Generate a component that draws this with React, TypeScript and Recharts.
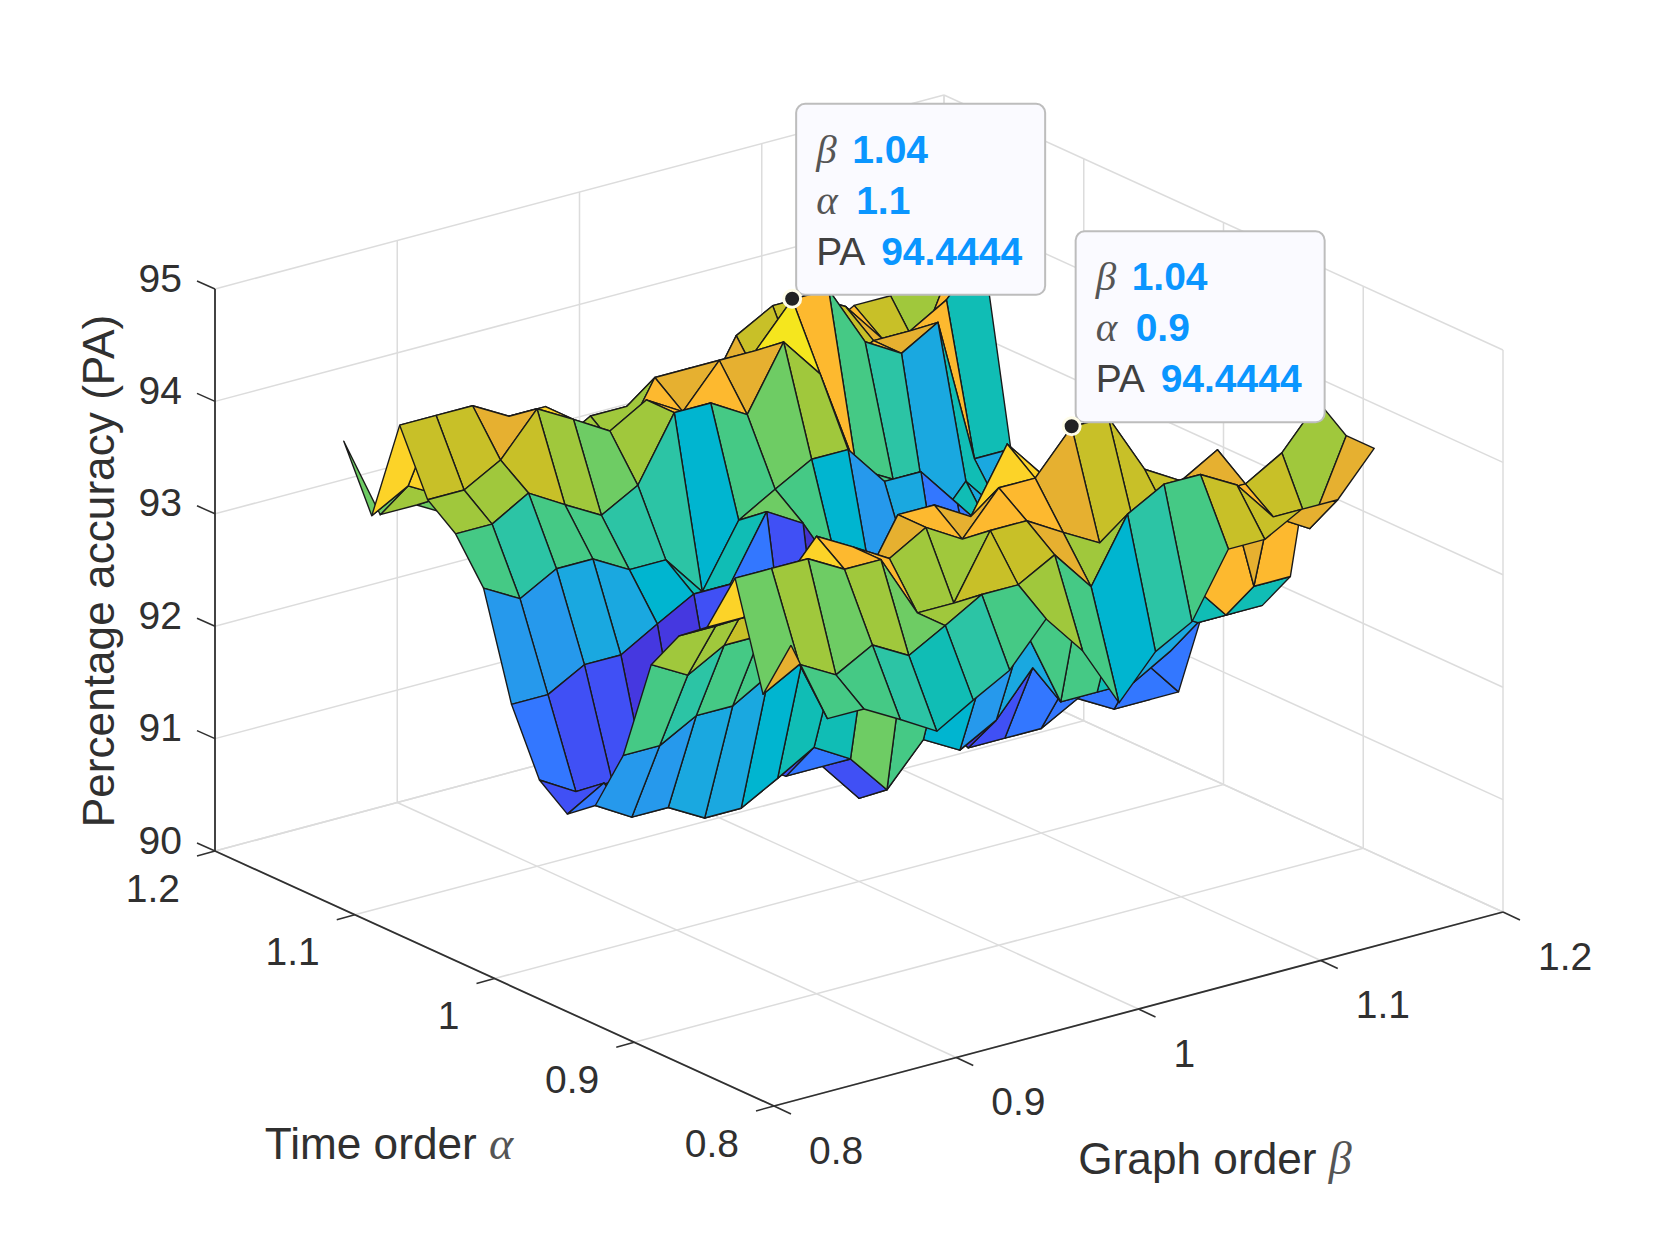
import { ScatterChart, Scatter, XAxis, YAxis } from 'recharts';

const W = 1661;
const H = 1246;

const betaTicks = [0.8, 0.9, 1, 1.1, 1.2];
const alphaTicks = [0.8, 0.9, 1, 1.1, 1.2];
const paTicks = [90, 91, 92, 93, 94, 95];

// grid of the surface: beta and alpha both run 0.84 .. 1.16
const betas = [0.84, 0.86, 0.88, 0.9, 0.92, 0.94, 0.96, 0.98, 1, 1.02, 1.04, 1.06, 1.08, 1.1, 1.12, 1.14, 1.16];
const alphas = [0.84, 0.86, 0.88, 0.9, 0.92, 0.94, 0.96, 0.98, 1, 1.02, 1.04, 1.06, 1.08, 1.1, 1.12, 1.14, 1.16];

// PA, one row per alpha, one value per beta
const pa084 = [93.7, 92.96, 92.96, 92.78, 92.59, 92.78, 92.96, 93.33, 92.96, 92.41, 92.78, 92.96, 93.52, 93.52, 93.7, 93.7, 94.07];
const pa086 = [93.15, 93.33, 93.15, 93.33, 93.15, 93.33, 93.52, 93.52, 93.7, 93.33, 93.89, 94.07, 94.07, 93.89, 93.52, 93.33, 94.07];
const pa088 = [94.07, 94.07, 94.07, 93.89, 93.89, 93.33, 93.33, 93.89, 93.89, 93.7, 93.52, 93.52, 93.52, 93.7, 93.7, 93.89, 94.26];
const pa090 = [93.52, 93.52, 93.7, 94.07, 93.89, 93.7, 93.89, 93.7, 94.07, 94.07, 94.44, 94.44, 93.89, 93.7, 93.89, 92.59, 92.59];
const pa092 = [93.33, 93.33, 93.52, 93.33, 93.15, 93.33, 93.89, 93.89, 93.7, 94.26, 93.89, 92.96, 92.78, 92.22, 92.59, 92.22, 92.22];
const pa094 = [92.96, 92.78, 92.96, 92.96, 92.78, 92.78, 92.41, 92.96, 93.15, 93.33, 93.33, 92.96, 92.96, 92.59, 92.22, 92.04, 92.04];
const pa096 = [92.04, 92.04, 92.22, 92.22, 92.41, 92.59, 92.59, 93.15, 92.96, 92.41, 92.04, 92.22, 91.48, 91.48, 91.48, 91.67, 92.04];
const pa098 = [91.48, 91.29, 91.29, 91.11, 91.11, 91.29, 91.48, 91.29, 90.93, 91.29, 91.11, 91.29, 91.67, 91.48, 91.48, 91.48, 91.11];
const pa100 = [91.29, 91.48, 91.29, 91.29, 91.29, 91.29, 91.11, 91.11, 90.74, 91.29, 91.29, 90.93, 90.93, 90.93, 91.11, 90.93, 90.93];
const pa102 = [91.48, 91.29, 91.29, 91.11, 91.11, 91.29, 91.48, 91.29, 90.93, 91.29, 91.11, 91.29, 91.67, 91.48, 91.48, 91.48, 91.11];
const pa104 = [92.04, 92.04, 92.22, 92.22, 92.41, 92.59, 92.59, 93.15, 92.96, 92.41, 92.04, 92.22, 91.48, 91.48, 91.48, 91.67, 92.04];
const pa106 = [92.96, 92.78, 92.96, 92.96, 92.78, 92.78, 92.41, 92.96, 93.15, 93.33, 93.33, 92.96, 92.96, 92.59, 92.22, 92.04, 92.04];
const pa108 = [93.33, 93.33, 93.52, 93.33, 93.15, 93.33, 93.89, 93.89, 93.7, 94.26, 93.89, 92.96, 92.78, 92.22, 92.59, 92.22, 92.22];
const pa110 = [93.52, 93.52, 93.7, 94.07, 93.89, 93.7, 93.89, 93.7, 94.07, 94.07, 94.44, 94.44, 93.89, 93.7, 93.89, 92.59, 92.59];
const pa112 = [94.07, 94.07, 94.07, 93.89, 93.89, 93.33, 93.33, 93.89, 93.89, 93.7, 93.52, 93.52, 93.52, 93.7, 93.7, 93.89, 94.26];
const pa114 = [93.15, 93.33, 93.15, 93.33, 93.15, 93.33, 93.52, 93.52, 93.7, 93.33, 93.89, 94.07, 94.07, 93.89, 93.52, 93.33, 94.07];
const pa116 = [93.7, 92.96, 92.96, 92.78, 92.59, 92.78, 92.96, 93.33, 92.96, 92.41, 92.78, 92.96, 93.52, 93.52, 93.7, 93.7, 94.07];

const paRows = [pa084, pa086, pa088, pa090, pa092, pa094, pa096, pa098, pa100, pa102, pa104, pa106, pa108, pa110, pa112, pa114, pa116];

// the colours of the faces, level by level
const colorLevels = [90.74, 90.93, 91.11, 91.29, 91.48, 91.67, 91.85, 92.04, 92.22, 92.41, 92.59, 92.78, 92.96, 93.15, 93.33, 93.52, 93.7, 93.89, 94.07, 94.26, 94.44];
const levelColors = ['#4433cc', '#4433cc', '#4538e0', '#4050f5', '#3377ff', '#3377ff', '#2a8df2', '#2699ec', '#1aa8e0', '#00b5d0', '#10bdb5', '#2cc4a5', '#45c985', '#6ecc64', '#a0c83c', '#c8c028', '#e6b030', '#fdb92f', '#fcd328', '#f5e61e', '#f9fb15'];

const tipBetas = [1.04, 1.04];
const tipAlphas = [1.1, 0.9];
const tipValues = [94.4444, 94.4444];

const SANS = '"Liberation Sans", Arial, sans-serif';
const SERIF = '"Liberation Serif", serif';
const INK = '#303030';

// view of the axes box on the page
const project = (beta: number, alpha: number, pa: number) => {
  const u = (beta - 0.8) / 0.4;
  const v = (alpha - 0.8) / 0.4;
  return {
    x: 774 + 729 * u - 559 * v,
    y: 1106 - 194 * u - 255 * v - 112.4 * (pa - 90),
  };
};

const faceColor = (pa: number) => {
  let best = 0;
  colorLevels.forEach((lvl, k) => {
    if (Math.abs(lvl - pa) < Math.abs(colorLevels[best] - pa)) best = k;
  });
  return levelColors[best];
};

const NoDot = () => <g />;

const gridLines: any[] = [];
betaTicks.forEach((b) => {
  gridLines.push([project(b, 0.8, 90), project(b, 1.2, 90)]);
  gridLines.push([project(b, 1.2, 90), project(b, 1.2, 95)]);
});
alphaTicks.forEach((a) => {
  gridLines.push([project(0.8, a, 90), project(1.2, a, 90)]);
  gridLines.push([project(1.2, a, 90), project(1.2, a, 95)]);
});
paTicks.forEach((z) => {
  gridLines.push([project(0.8, 1.2, z), project(1.2, 1.2, z)]);
  gridLines.push([project(1.2, 0.8, z), project(1.2, 1.2, z)]);
});

const axisLines = [
  [project(0.8, 1.2, 90), project(0.8, 1.2, 95)],
  [project(0.8, 1.2, 90), project(0.8, 0.8, 90)],
  [project(0.8, 0.8, 90), project(1.2, 0.8, 90)],
];
const tickMarks: any[] = [];
paTicks.forEach((z) => {
  const p = project(0.8, 1.2, z);
  tickMarks.push([p, { x: p.x - 18, y: p.y - 8 }]);
});
alphaTicks.forEach((a) => {
  const p = project(0.8, a, 90);
  tickMarks.push([p, { x: p.x - 18, y: p.y + 5 }]);
});
betaTicks.forEach((b) => {
  const p = project(b, 0.8, 90);
  tickMarks.push([p, { x: p.x + 17, y: p.y + 8 }]);
});

// far corner first so that the near faces paint over it
const faces: any[] = [];
for (let j = alphas.length - 2; j >= 0; j--) {
  for (let i = betas.length - 2; i >= 0; i--) {
    const corners = [
      project(betas[i], alphas[j], paRows[j][i]),
      project(betas[i + 1], alphas[j], paRows[j][i + 1]),
      project(betas[i + 1], alphas[j + 1], paRows[j + 1][i + 1]),
      project(betas[i], alphas[j + 1], paRows[j + 1][i]),
      project(betas[i], alphas[j], paRows[j][i]),
    ];
    faces.push({ corners, fill: faceColor(paRows[j][i]) });
  }
}

const tickLabels: any[] = [];
paTicks.forEach((z) => {
  const p = project(0.8, 1.2, z);
  tickLabels.push({ x: p.x - 33, y: p.y - 11, text: String(z), anchor: 'end' });
});
alphaTicks.forEach((a) => {
  const p = project(0.8, a, 90);
  tickLabels.push({ x: p.x - 35, y: p.y + 37, text: String(a), anchor: 'end' });
});
betaTicks.forEach((b) => {
  const p = project(b, 0.8, 90);
  tickLabels.push({ x: p.x + 35, y: p.y + 44, text: String(b), anchor: 'start' });
});

const titles = [
  { x: 389, y: 1143, text: 'Time order ', greek: 'α', angle: 0 },
  { x: 1215, y: 1158, text: 'Graph order ', greek: 'β', angle: 0 },
  { x: 98, y: 571, text: 'Percentage accuracy (PA)', greek: '', angle: -90 },
];

const tips = tipBetas.map((b, k) => ({
  ...project(b, tipAlphas[k], tipValues[k]),
  beta: b,
  alpha: tipAlphas[k],
  pa: tipValues[k],
}));

const TickText = (props: any) => {
  const { cx, cy, payload } = props;
  return (
    <text x={cx} y={cy} fontFamily={SANS} fontSize={39} fill={INK} textAnchor={payload.anchor} dominantBaseline="central">
      {payload.text}
    </text>
  );
};

const TitleText = (props: any) => {
  const { cx, cy, payload } = props;
  return (
    <text
      x={cx}
      y={cy}
      fontFamily={SANS}
      fontSize={44.2}
      fill={INK}
      textAnchor="middle"
      dominantBaseline="central"
      transform={payload.angle ? `rotate(${payload.angle} ${cx} ${cy})` : undefined}
    >
      {payload.text}
      {payload.greek ? <tspan fontFamily={SERIF} fontStyle="italic" fontSize={46} fill="#555555">{payload.greek}</tspan> : null}
    </text>
  );
};

const TipBox = (props: any) => {
  const { cx, cy, payload } = props;
  const rows = [
    { name: 'β', greek: true, value: String(payload.beta), dy: -136, dx: 60 },
    { name: 'α', greek: true, value: String(payload.alpha), dy: -85, dx: 64 },
    { name: 'PA', greek: false, value: String(payload.pa), dy: -34, dx: 89 },
  ];
  return (
    <g>
      <rect x={cx + 4} y={cy - 195} width={249} height={191} rx={9} fill="#fafaff" stroke="#bdbdbd" strokeWidth={2} />
      {rows.map((r) => (
        <g key={r.name}>
          <text
            x={cx + 24}
            y={cy + r.dy}
            fontFamily={r.greek ? SERIF : SANS}
            fontStyle={r.greek ? 'italic' : 'normal'}
            fontSize={r.greek ? 41 : 39}
            fill={r.greek ? '#555555' : '#404040'}
          >
            {r.name}
          </text>
          <text x={cx + r.dx} y={cy + r.dy} fontFamily={SANS} fontWeight="bold" fontSize={39} fill="#0a96ff">
            {r.value}
          </text>
        </g>
      ))}
      <circle cx={cx} cy={cy} r={8.5} fill="#222222" stroke="#fffde8" strokeWidth={3} />
    </g>
  );
};

const App = () => {
  return (
    <div style={{ position: 'absolute', left: 0, top: 0, background: '#ffffff' }}>
      <ScatterChart width={W} height={H} margin={{ top: 0, right: 0, bottom: 0, left: 0 }}>
        <XAxis type="number" dataKey="x" domain={[0, W]} hide />
        <YAxis type="number" dataKey="y" domain={[0, H]} reversed hide />
        {gridLines.map((pts, k) => (
          <Scatter key={`grid${k}`} data={pts} line={{ stroke: '#dcdcdc', strokeWidth: 1.5 }} shape={NoDot} isAnimationActive={false} />
        ))}
        {axisLines.map((pts, k) => (
          <Scatter key={`axis${k}`} data={pts} line={{ stroke: '#303030', strokeWidth: 1.8 }} shape={NoDot} isAnimationActive={false} />
        ))}
        {tickMarks.map((pts, k) => (
          <Scatter key={`tick${k}`} data={pts} line={{ stroke: '#303030', strokeWidth: 1.5 }} shape={NoDot} isAnimationActive={false} />
        ))}
        {faces.map((f, k) => (
          <Scatter
            key={`face${k}`}
            data={f.corners}
            line={{ fill: f.fill, stroke: '#1a1a1a', strokeWidth: 1.4, strokeLinejoin: 'round' }}
            shape={NoDot}
            isAnimationActive={false}
          />
        ))}
        <Scatter data={tickLabels} shape={TickText} isAnimationActive={false} />
        <Scatter data={titles} shape={TitleText} isAnimationActive={false} />
        <Scatter data={tips} shape={TipBox} isAnimationActive={false} />
      </ScatterChart>
    </div>
  );
};

export default App;
